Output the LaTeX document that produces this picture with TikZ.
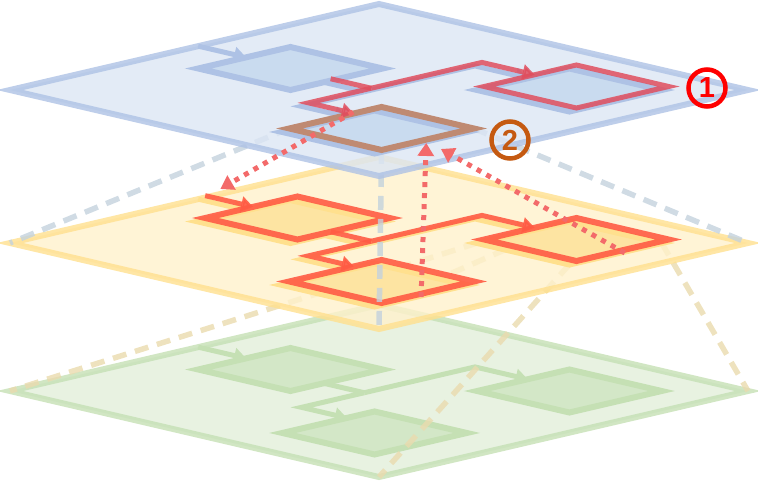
\documentclass[tikz,border=0pt]{standalone}
\usepackage{fontspec}
\newfontfamily\numfont{Liberation Sans}
\usetikzlibrary{arrows.meta}

\definecolor{bluefill}{HTML}{DCE6F4}
\definecolor{blueline}{HTML}{AEC2E5}
\definecolor{blueinner}{HTML}{C9DBEF}
\definecolor{yellowfill}{HTML}{FFF1CC}
\definecolor{yellowline}{HTML}{FFE08E}
\definecolor{yellowinner}{HTML}{FDE4A2}
\definecolor{greenfill}{HTML}{E2EFDA}
\definecolor{greenline}{HTML}{C5E0B4}
\definecolor{greeninner}{HTML}{D3E7C7}
\definecolor{hotred}{HTML}{FF5B44}
\definecolor{pathred}{HTML}{E04E5E}
\definecolor{subbrown}{HTML}{BF8A72}
\definecolor{dotred}{HTML}{F36A6A}
\definecolor{grayproj}{HTML}{C4D2DD}
\definecolor{tanproj}{HTML}{EADBAE}
\definecolor{numred}{HTML}{FF0000}
\definecolor{numbrown}{HTML}{C55A11}

\tikzset{
  plane axes/.style={shift={(10,#1)}, x={(369pt,86pt)}, y={(369pt,-86pt)}},
  plane/.style={line width=6pt, fill opacity=0.8, draw opacity=0.8},
  blueplane/.style={plane, fill=bluefill, draw=blueline},
  yellowplane/.style={plane, fill=yellowfill, draw=yellowline},
  greenplane/.style={plane, fill=greenfill, draw=greenline},
  flowbox/.style={line width=6pt},
  bluebox/.style={flowbox, fill=blueinner, draw=blueline},
  yellowbox/.style={flowbox, fill=yellowinner, draw=yellowline},
  greenbox/.style={flowbox, fill=greeninner, draw=greenline},
  wire/.style={line width=5pt},
  bluewire/.style={wire, draw=blueline},
  yellowwire/.style={wire, draw=yellowline},
  greenwire/.style={wire, draw=greenline},
  wiretip/.style={-{Triangle[width=15pt,length=12pt]}},
  hot/.style={line width=6pt, draw=hotred, opacity=0.9},
  hotwire/.style={line width=5pt, draw=hotred, opacity=0.9},
  toppath/.style={line width=5pt, draw=pathred, opacity=0.85},
  subbox/.style={line width=6pt, draw=subbrown},
  proj/.style={line width=5.5pt, dash pattern=on 14pt off 9pt, opacity=0.8},
  hop/.style={draw=dotred, line width=5pt, dash pattern=on 5pt off 6pt,
    -{Triangle[width=16pt,length=13pt]}},
  badge/.style={circle, line width=4.5pt, minimum size=37pt, inner sep=0pt,
    font=\numfont\bfseries\fontsize{29}{29}\selectfont}
}

% one square of the flow, in plane coordinates
\newcommand{\diamondbox}[2]{(#1,#2) -- ++(0.25,0) -- ++(0,0.25) -- ++(-0.25,0) -- cycle}
% exit of A, split to B and C
\newcommand{\flowwires}[1]{%
  \draw[#1] (0.47,0.38) -- (0.47,0.49);
  \draw[#1, wiretip] (0.47,0.49) -- (0.77,0.49) -- (0.77,0.633);
  \draw[#1, wiretip] (0.47,0.49) -- (0.30,0.49) -- (0.30,0.613);}
% a whole layer: plane, three boxes, wires, then highlights
\newcommand{\flowlayer}[3]{%
  \begin{scope}[plane axes=#2]
    \draw[#1plane] (0,0) -- (1,0) -- (1,1) -- (0,1) -- cycle;
    \foreach \a/\b in {0.38/0.13, 0.633/0.633, 0.125/0.613}
      \draw[#1box] \diamondbox{\a}{\b};
    \draw[#1wire, wiretip] (0.51,0) -- (0.51,0.13);
    \flowwires{#1wire}
    \begin{scope}[shift={(7pt,3.5pt)}]
      #3
    \end{scope}
  \end{scope}}

\begin{document}
\begin{tikzpicture}[x=1pt, y=-1pt]
  \useasboundingbox (0,0) rectangle (758,483);

  % anchor points
  \begin{scope}[plane axes=391]
    \coordinate (gr-left) at (0,0);
    \coordinate (gr-top) at (1,0);
    \coordinate (gr-right) at (1,1);
    \coordinate (gr-bottom) at (0,1);
  \end{scope}
  \begin{scope}[plane axes=243]
    \coordinate (ye-left) at (0,0);
    \coordinate (ye-top) at (1,0);
    \coordinate (ye-right) at (1,1);
    \coordinate (ye-bottom) at (0,1);
    \coordinate (yb-left) at (0.633,0.633);
    \coordinate (yb-top) at (0.883,0.633);
    \coordinate (yb-right) at (0.883,0.883);
    \coordinate (yb-bottom) at (0.633,0.883);
    \coordinate (sub-start) at (0.599,-0.029);
    \coordinate (sub-end1) at (0.243,0.871);
    \coordinate (sub-end2) at (0.775,0.891);
  \end{scope}
  \begin{scope}[plane axes=90]
    \coordinate (call) at (0.337,0.593);
    \coordinate (back1) at (0.256,0.872);
    \coordinate (back2) at (0.241,0.927);
  \end{scope}
  \begin{scope}[plane axes=90, shift={(7pt,3.5pt)}]
    \coordinate (sub-left) at (0.125,0.613);
    \coordinate (sub-top) at (0.375,0.613);
    \coordinate (sub-right) at (0.375,0.863);
    \coordinate (sub-bottom) at (0.125,0.863);
  \end{scope}

  % bottom layer
  \flowlayer{green}{391}{}

  \foreach \c in {left,top,right,bottom}
    \draw[proj, draw=tanproj] (yb-\c) -- (gr-\c);

  % middle layer, all highlighted
  \flowlayer{yellow}{243}{
    \foreach \a/\b in {0.38/0.13, 0.633/0.633, 0.125/0.613}
      \draw[hot] \diamondbox{\a}{\b};
    \draw[hotwire, wiretip] (0.51,0) -- (0.51,0.13);
    \flowwires{hotwire}
  }

  \foreach \c in {left,top,right,bottom}
    \draw[proj, draw=grayproj] (sub-\c) -- (ye-\c);

  % top layer
  \flowlayer{blue}{90}{
    \draw[toppath] \diamondbox{0.633}{0.633};
    \draw[subbox] \diamondbox{0.125}{0.613};
    \flowwires{toppath}
  }

  % jumps between the layers
  \draw[hop] (call) -- (sub-start);
  \draw[hop] (sub-end1) -- (back1);
  \draw[hop] (sub-end2) -- (back2);

  \node[badge, draw=numred, text=numred] (one) at (707,88) {1};
  \node[badge, draw=numbrown, text=numbrown] (two) at (510,140) {2};
\end{tikzpicture}
\end{document}
